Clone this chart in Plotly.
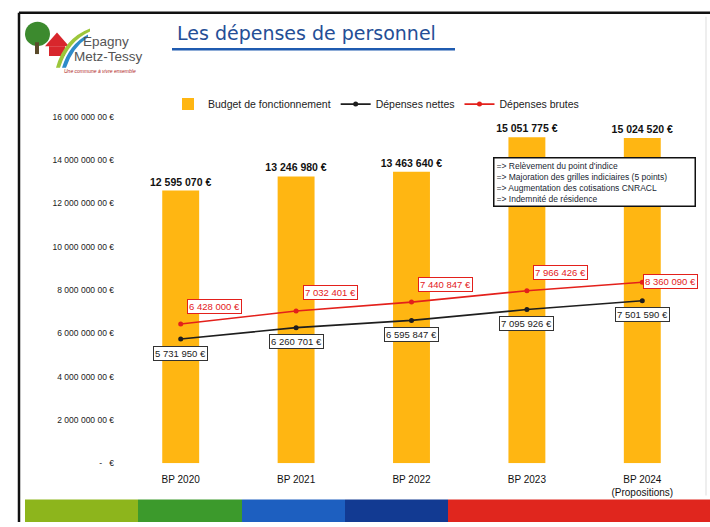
import plotly.graph_objects as go

W, H = 710, 527

categories = ["BP 2020", "BP 2021", "BP 2022", "BP 2023", "BP 2024<br>(Propositions)"]
budget = [12595070, 13246980, 13463640, 15051775, 15024520]
depenses_nettes = [5731950, 6260701, 6595847, 7095926, 7501590]
depenses_brutes = [6428000, 7032401, 7440847, 7966426, 8360090]
budget_labels = ["12 595 070 €", "13 246 980 €", "13 463 640 €", "15 051 775 €", "15 024 520 €"]
nettes_labels = ["5 731 950 €", "6 260 701 €", "6 595 847 €", "7 095 926 €", "7 501 590 €"]
brutes_labels = ["6 428 000 €", "7 032 401 €", "7 440 847 €", "7 966 426 €", "8 360 090 €"]
y_tickvals = [0, 2e6, 4e6, 6e6, 8e6, 10e6, 12e6, 14e6, 16e6]
y_ticktext = ["-   €", "2 000 000 00 €", "4 000 000 00 €", "6 000 000 00 €", "8 000 000 00 €",
              "10 000 000 00 €", "12 000 000 00 €", "14 000 000 00 €", "16 000 000 00 €"]
notes = ["=> Relèvement du point d'indice",
         "=> Majoration des grilles indiciaires (5 points)",
         "=> Augmentation des cotisations CNRACL",
         "=> Indemnité de résidence"]


def px(x):
    return x / W


def py(y):
    return 1 - y / H


ORANGE = "#FFB612"
RED = "#E3201B"
BLACK = "#1E1E1E"
FONT = "Liberation Sans, Arial, sans-serif"

fig = go.Figure()
fig.add_trace(go.Bar(
    x=categories, y=budget, name="Budget de fonctionnement",
    marker=dict(color=ORANGE, line=dict(width=0)), width=0.32,
    text=[f"<b>{t}</b>" for t in budget_labels], textposition="outside",
    constraintext="none",
    textfont=dict(size=10.5, color="#111", family=FONT), cliponaxis=False,
))
fig.add_trace(go.Scatter(
    x=categories, y=depenses_nettes, name="Dépenses nettes", mode="lines+markers",
    line=dict(color=BLACK, width=1.6), marker=dict(size=5, color=BLACK),
))
fig.add_trace(go.Scatter(
    x=categories, y=depenses_brutes, name="Dépenses brutes", mode="lines+markers",
    line=dict(color=RED, width=1.6), marker=dict(size=5, color=RED),
))

annotations = []
n = len(categories)
for i in range(n):
    last = i == n - 1
    annotations.append(dict(
        x=categories[i], y=depenses_brutes[i], xref="x", yref="y",
        text=brutes_labels[i], showarrow=False,
        xshift=28 if last else 34, yshift=1 if last else 18,
        font=dict(size=9.5, color=RED, family=FONT),
        bgcolor="white", bordercolor=RED, borderwidth=1, borderpad=1,
    ))
    annotations.append(dict(
        x=categories[i], y=depenses_nettes[i], xref="x", yref="y",
        text=nettes_labels[i], showarrow=False, xshift=0, yshift=-14,
        font=dict(size=9.5, color="#222", family=FONT),
        bgcolor="white", bordercolor="#333", borderwidth=1, borderpad=1,
    ))

# notes box
annotations.append(dict(
    x=px(493), y=py(180), xref="paper", yref="paper", xanchor="left", yanchor="middle",
    text="<br>".join(notes), align="left", showarrow=False, width=196,
    font=dict(size=8.5, color="#1A1F33", family=FONT),
    bgcolor="white", bordercolor="#111", borderwidth=1.5, borderpad=2,
))
# title
annotations.append(dict(
    x=px(175), y=py(29), xref="paper", yref="paper", xanchor="left", yanchor="middle",
    text="Les dépenses de personnel", showarrow=False,
    font=dict(size=19, color="#244E96", family="DejaVu Sans, Verdana, sans-serif"),
))
# logo text
annotations.append(dict(
    x=px(106), y=py(37), xref="paper", yref="paper", xanchor="center", yanchor="middle",
    text="Epagny", showarrow=False,
    font=dict(size=13.5, color="#555", family="Liberation Sans Narrow, Arial Narrow, sans-serif"),
))
annotations.append(dict(
    x=px(108), y=py(52), xref="paper", yref="paper", xanchor="center", yanchor="middle",
    text="Metz-Tessy", showarrow=False,
    font=dict(size=13.5, color="#555", family="Liberation Sans Narrow, Arial Narrow, sans-serif"),
))
annotations.append(dict(
    x=px(100), y=py(67), xref="paper", yref="paper", xanchor="center", yanchor="middle",
    text="<i>Une commune à vivre ensemble</i>", showarrow=False,
    font=dict(size=5, color="#B0271E", family=FONT),
))

shapes = []
# slide frame
shapes.append(dict(type="line", xref="paper", yref="paper", x0=px(19), x1=px(710), y0=py(8), y1=py(8),
                   line=dict(color="#111", width=2.5)))
shapes.append(dict(type="line", xref="paper", yref="paper", x0=px(19), x1=px(19), y0=py(8), y1=py(527),
                   line=dict(color="#111", width=2.5)))
shapes.append(dict(type="line", xref="paper", yref="paper", x0=px(706), x1=px(706), y0=py(12), y1=py(500),
                   line=dict(color="#DDD", width=1)))
# title underline
shapes.append(dict(type="line", xref="paper", yref="paper", x0=px(172), x1=px(455), y0=py(45), y1=py(45),
                   line=dict(color="#1F5BB0", width=2.5)))
# logo: tree, house, swoosh
shapes.append(dict(type="circle", xref="paper", yref="paper", x0=px(25), x1=px(50), y0=py(42), y1=py(17),
                   fillcolor="#3C8A2E", line=dict(width=0)))
shapes.append(dict(type="rect", xref="paper", yref="paper", x0=px(35), x1=px(39), y0=py(50), y1=py(38),
                   fillcolor="#5A4A2A", line=dict(width=0)))
shapes.append(dict(type="path", xref="paper", yref="paper",
                   path=f"M {px(45)} {py(42)} L {px(57)} {py(28)} L {px(69)} {py(42)} Z",
                   fillcolor="#D8262C", line=dict(width=0)))
shapes.append(dict(type="rect", xref="paper", yref="paper", x0=px(49), x1=px(65), y0=py(52), y1=py(42),
                   fillcolor="#D8262C", line=dict(width=0)))
shapes.append(dict(type="path", xref="paper", yref="paper",
                   path=f"M {px(56)} {py(64)} Q {px(64)} {py(34)} {px(90)} {py(24)} L {px(90)} {py(27)} Q {px(68)} {py(37)} {px(60)} {py(64)} Z",
                   fillcolor="#9CC63B", line=dict(width=0)))
shapes.append(dict(type="path", xref="paper", yref="paper",
                   path=f"M {px(62)} {py(64)} Q {px(69)} {py(40)} {px(88)} {py(30)} L {px(88)} {py(33)} Q {px(73)} {py(43)} {px(66)} {py(64)} Z",
                   fillcolor="#2E8BC9", line=dict(width=0)))
# bottom stripes
stripes = [(25, 138, "#8DB51C"), (138, 242, "#3C9A2C"), (242, 345, "#1D5FC0"),
           (345, 448, "#123A92"), (448, 710, "#E0261E")]
for x0, x1, c in stripes:
    shapes.append(dict(type="rect", xref="paper", yref="paper", x0=px(x0), x1=px(x1), y0=py(527), y1=py(504),
                       fillcolor=c, line=dict(width=0), layer="below"))

fig.update_layout(
    width=W, height=H, margin=dict(l=0, r=0, t=0, b=0),
    paper_bgcolor="white", plot_bgcolor="white",
    font=dict(family=FONT, color="#222"),
    showlegend=True,
    legend=dict(orientation="h", x=px(168), y=py(101), xanchor="left", yanchor="middle",
                font=dict(size=10.5, color="#222", family=FONT), itemwidth=30,
                bgcolor="rgba(0,0,0,0)", traceorder="normal"),
    xaxis=dict(domain=[px(123), px(700)], showgrid=False, showline=False, zeroline=False,
               ticks="", tickfont=dict(size=10, color="#111", family=FONT), ticklabelstandoff=9),
    yaxis=dict(domain=[py(467), py(114)], range=[0, 16e6], showgrid=False, showline=False,
               zeroline=False, tickvals=y_tickvals, ticktext=y_ticktext, ticks="",
               tickfont=dict(size=8.5, color="#222", family=FONT), ticklabelstandoff=8),
    bargap=0.68,
    annotations=annotations, shapes=shapes,
)

fig.write_html("out.html", config={"displayModeBar": False},
               post_script="document.body.style.margin='0';document.body.style.overflow='hidden';")
